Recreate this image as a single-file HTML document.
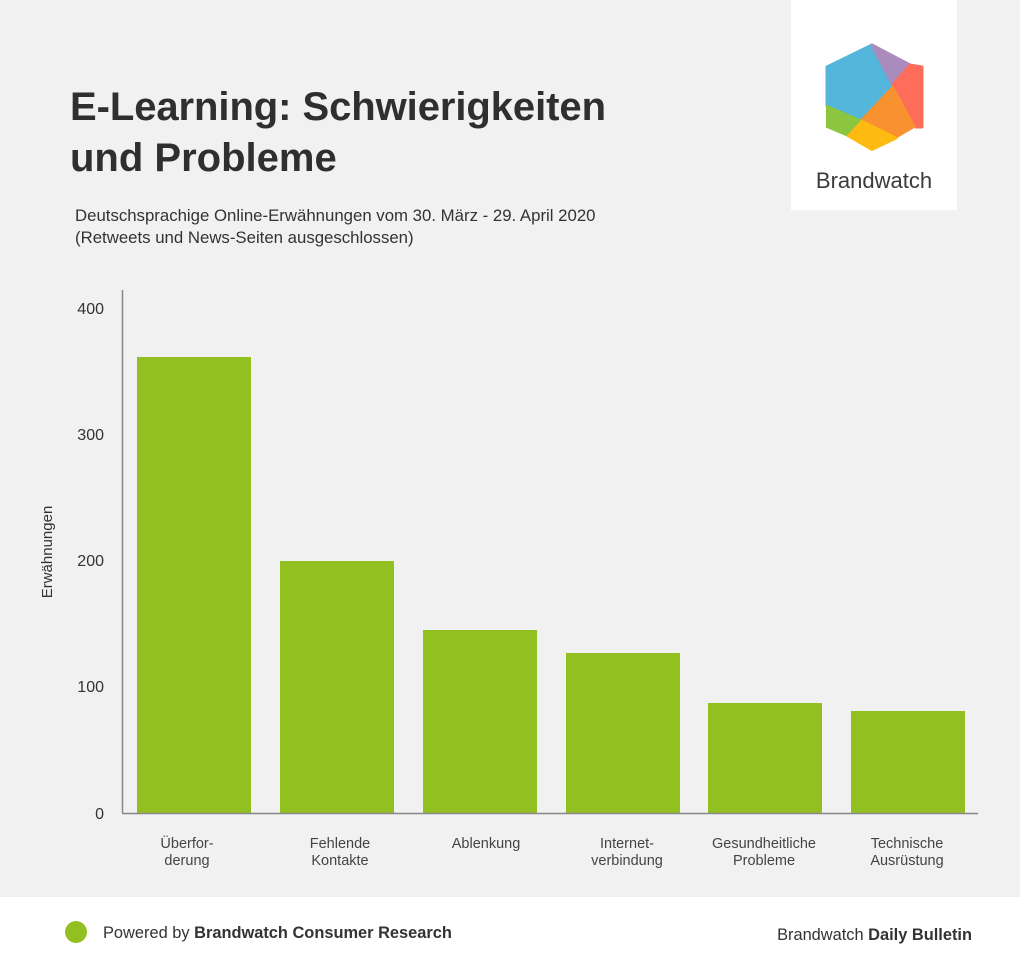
<!DOCTYPE html>
<html><head><meta charset="utf-8"><style>
body{margin:0;width:1020px;height:970px;background:#fff;font-family:"Liberation Sans",sans-serif;overflow:hidden}
</style></head><body>
<svg width="1020" height="970" xmlns="http://www.w3.org/2000/svg" font-family="Liberation Sans, sans-serif">
<rect x="0" y="0" width="1020" height="897" fill="#f1f1f1"/>
<rect x="791" y="0" width="166" height="210" fill="#fff"/>
<g stroke-linejoin="round">
<polygon points="872,45 893,85 860,120 827,106 827,67" fill="#55b6dc" stroke="#55b6dc" stroke-width="3"/>
<polygon points="872,45 910,65 893,85" fill="#a98bbd" stroke="#a98bbd" stroke-width="3"/>
<polygon points="910,65 922,67 922,127 916,127 893,85" fill="#fe6c5a" stroke="#fe6c5a" stroke-width="3"/>
<polygon points="893,85 916,127 897,138 860,120" fill="#f8912f"/>
<polygon points="860,120 897,138 872,150 846,135" fill="#fdbb12" stroke="#fdbb12" stroke-width="2"/>
<polygon points="827,106 860,120 846,135 827,127" fill="#8cc53f" stroke="#8cc53f" stroke-width="2"/>
</g>
<text x="874" y="188" font-size="22" fill="#3a3a3a" text-anchor="middle">Brandwatch</text>
<text x="70" y="120" font-size="40" font-weight="bold" fill="#2f2f2f" textLength="536">E-Learning: Schwierigkeiten</text>
<text x="70" y="171" font-size="40" font-weight="bold" fill="#2f2f2f">und Probleme</text>
<text x="75" y="221" font-size="16.8" fill="#333">Deutschsprachige Online-Erwähnungen vom 30. März - 29. April 2020</text>
<text x="75" y="243" font-size="16.8" fill="#333">(Retweets und News-Seiten ausgeschlossen)</text>
<g fill="#93c021">
<rect x="137" y="357" width="114" height="456"/>
<rect x="280" y="561" width="114" height="252"/>
<rect x="423" y="630" width="114" height="183"/>
<rect x="566" y="653" width="114" height="160"/>
<rect x="708" y="703" width="114" height="110"/>
<rect x="851" y="711" width="114" height="102"/>
</g>
<line x1="122.5" y1="290" x2="122.5" y2="813" stroke="#888" stroke-width="1.5"/>
<line x1="122" y1="813.5" x2="978" y2="813.5" stroke="#888" stroke-width="1.5"/>
<g font-size="16" fill="#333" text-anchor="end">
<text x="104" y="314">400</text><text x="104" y="440">300</text><text x="104" y="566">200</text><text x="104" y="692">100</text><text x="104" y="819">0</text>
</g>
<text transform="translate(52,552) rotate(-90)" font-size="15" fill="#333" text-anchor="middle">Erwähnungen</text>
<g font-size="14.5" fill="#444" text-anchor="middle">
<text x="187" y="848">Überfor-</text><text x="187" y="865">derung</text>
<text x="340" y="848">Fehlende</text><text x="340" y="865">Kontakte</text>
<text x="486" y="848">Ablenkung</text>
<text x="627" y="848">Internet-</text><text x="627" y="865">verbindung</text>
<text x="764" y="848">Gesundheitliche</text><text x="764" y="865">Probleme</text>
<text x="907" y="848">Technische</text><text x="907" y="865">Ausrüstung</text>
</g>
<circle cx="76" cy="932" r="11" fill="#93c021"/>
<text x="103" y="938" font-size="16.4" fill="#333">Powered by <tspan font-weight="bold">Brandwatch Consumer Research</tspan></text>
<text x="972" y="940" font-size="16.4" fill="#333" text-anchor="end">Brandwatch <tspan font-weight="bold">Daily Bulletin</tspan></text>
</svg>
</body></html>
